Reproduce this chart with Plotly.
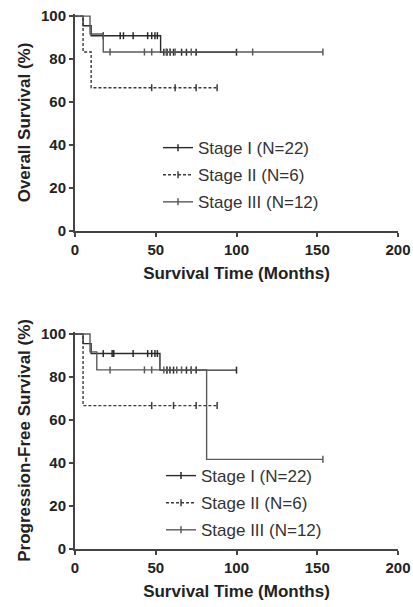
import plotly.graph_objects as go

# ---------------- data ----------------
# Overall survival: step curves (time in months, survival %)
os_I_t = [0, 5, 10, 53]
os_I_s = [100, 95.5, 90.9, 83.2]
os_I_cens_t = [17.5, 28, 30, 36, 45, 47.5, 49.5, 51, 55, 57, 59, 61, 66, 69, 75, 100]
os_I_cens_s = [90.9] * 8 + [83.2] * 8

os_II_t = [0, 5, 10]
os_II_s = [100, 83.3, 66.7]
os_II_cens_t = [47.5, 62, 75, 88]
os_II_cens_s = [66.7] * 4

os_III_t = [0, 9.3, 17.5]
os_III_s = [100, 91.7, 83.3]
os_III_cens_t = [21.7, 43, 47.5, 56.5, 58.8, 62, 72, 110, 153.5]
os_III_cens_s = [83.3] * 9

# Progression-free survival
pfs_I_t = [0, 5, 10, 52.6]
pfs_I_s = [100, 95.5, 90.9, 83.2]
pfs_I_cens_t = [17.5, 23, 24, 36, 45, 47.5, 49.5, 51, 56.8, 58.8, 61, 69, 72, 75, 100]
pfs_I_cens_s = [90.9] * 8 + [83.2] * 7

pfs_II_t = [0, 5]
pfs_II_s = [100, 66.7]
pfs_II_cens_t = [47.5, 61, 75, 88]
pfs_II_cens_s = [66.7] * 4

pfs_III_t = [0, 9.3, 13.5, 81.5]
pfs_III_s = [100, 91.7, 83.3, 41.7]
pfs_III_cens_t = [21.7, 43, 47.5, 55, 57, 63, 66, 72, 153.5]
pfs_III_cens_s = [83.3] * 8 + [41.7]

labels = ["Stage I (N=22)", "Stage II (N=6)", "Stage III (N=12)"]
x_ticks = [0, 50, 100, 150, 200]
y_ticks = [0, 20, 40, 60, 80, 100]

# ---------------- styling ----------------
colors = ["#2a2a2a", "#3a3a3a", "#5a5a5a"]
dashes = ["solid", "3px,2px", "solid"]

fig = go.Figure()

def add_curve(t, s, ct, cs, idx, xa, ya, legend):
    x = list(t) + [max(ct)]
    y = list(s) + [s[-1]]
    grp = f"{legend}_{idx}"
    fig.add_trace(go.Scatter(
        x=x, y=y, mode="lines", line_shape="hv",
        line=dict(color=colors[idx], width=1.4, dash=dashes[idx]),
        xaxis=xa, yaxis=ya, showlegend=False, legendgroup=grp, legend=legend,
        hoverinfo="skip"))
    fig.add_trace(go.Scatter(
        x=ct, y=cs, mode="markers",
        marker=dict(symbol="line-ns", size=5,
                    line=dict(color=colors[idx], width=1.5)),
        xaxis=xa, yaxis=ya, showlegend=False, legendgroup=grp, legend=legend,
        cliponaxis=False))
    # legend entry
    fig.add_trace(go.Scatter(
        x=[None], y=[None], mode="lines+markers", name=labels[idx],
        line=dict(color=colors[idx], width=1.4, dash=dashes[idx]),
        marker=dict(symbol="line-ns", size=5,
                    line=dict(color=colors[idx], width=1.5)),
        xaxis=xa, yaxis=ya, showlegend=True, legendgroup=grp, legend=legend))

os_data = [
    (os_I_t, os_I_s, os_I_cens_t, os_I_cens_s),
    (os_II_t, os_II_s, os_II_cens_t, os_II_cens_s),
    (os_III_t, os_III_s, os_III_cens_t, os_III_cens_s),
]
pfs_data = [
    (pfs_I_t, pfs_I_s, pfs_I_cens_t, pfs_I_cens_s),
    (pfs_II_t, pfs_II_s, pfs_II_cens_t, pfs_II_cens_s),
    (pfs_III_t, pfs_III_s, pfs_III_cens_t, pfs_III_cens_s),
]
for i, d in enumerate(os_data):
    add_curve(*d, i, "x", "y", "legend")
for i, d in enumerate(pfs_data):
    add_curve(*d, i, "x2", "y2", "legend2")

FONT = "Liberation Sans, Arial, sans-serif"
axis_common = dict(
    showline=True, linecolor="#444444", linewidth=2,
    ticks="outside", ticklen=4, tickwidth=2, tickcolor="#444444",
    tickfont=dict(family=FONT, size=15, color="#222222", weight="bold"),
    showgrid=False, zeroline=False, automargin=False,
)
xcommon = dict(axis_common, range=[0, 200], tickvals=x_ticks,
               title=dict(text="Survival Time (Months)",
                          font=dict(family=FONT, size=17, color="#222222", weight="bold"),
                          standoff=10))
ycommon = dict(axis_common, range=[0, 101], tickvals=y_ticks)

fig.update_layout(
    width=413, height=607,
    margin=dict(l=75, r=15, t=14, b=58, autoexpand=False),
    paper_bgcolor="white", plot_bgcolor="white",
    font=dict(family=FONT, color="#222222"),
    xaxis=dict(xcommon, domain=[0, 1], anchor="y"),
    yaxis=dict(ycommon, domain=[0.5944, 1.0], anchor="x",
               title=dict(text="Overall Survival (%)",
                          font=dict(family=FONT, size=17, color="#222222", weight="bold"),
                          standoff=6)),
    xaxis2=dict(xcommon, domain=[0, 1], anchor="y2"),
    yaxis2=dict(ycommon, domain=[0, 0.4059], anchor="x2",
                title=dict(text="Progression-Free Survival (%)",
                           font=dict(family=FONT, size=17, color="#222222", weight="bold"),
                           standoff=6)),
    legend=dict(x=(158 - 75) / 323, y=0.783, xanchor="left", yanchor="top",
                xref="paper", yref="paper",
                font=dict(family=FONT, size=17, color="#333333"),
                bgcolor="rgba(0,0,0,0)", traceorder="grouped", tracegroupgap=2,
                itemwidth=30),
    legend2=dict(x=(161 - 75) / 323, y=0.17, xanchor="left", yanchor="top",
                 xref="paper", yref="paper",
                 font=dict(family=FONT, size=17, color="#333333"),
                 bgcolor="rgba(0,0,0,0)", traceorder="grouped", tracegroupgap=2,
                 itemwidth=30),
    showlegend=True,
)

fig.write_html("out.html")
